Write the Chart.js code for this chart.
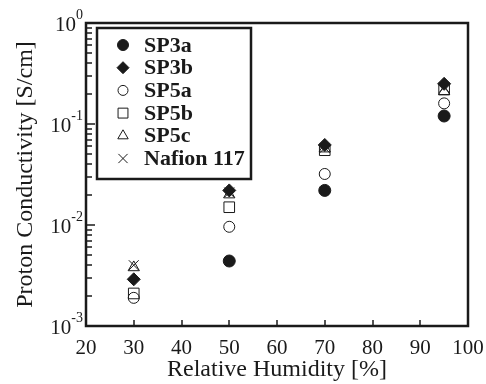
<!DOCTYPE html>
<html lang="en">
<head>
    <meta charset="UTF-8">
    <title>Proton Conductivity vs Relative Humidity</title>
    <style>
        html, body { margin: 0; padding: 0; background: #fff; }
        #wrap { width: 486px; height: 384px; }
    </style>
</head>
<body>
    <div id="wrap"><canvas id="chart" width="486" height="384"></canvas></div>
    <script src="https://cdn.jsdelivr.net/npm/chart.js"></script>
    <script>
        // relative humidity [%] where conductivity was measured
        const humidity = [30, 50, 70, 95];

        // proton conductivity [S/cm]
        const sp3a   = [null,   0.0044, 0.022, 0.12];
        const sp3b   = [0.0029, 0.022,  0.062, 0.25];
        const sp5a   = [0.0019, 0.0096, 0.032, 0.16];
        const sp5b   = [0.0021, 0.015,  0.055, 0.22];
        const sp5c   = [0.0038, 0.020,  0.057, 0.21];
        const nafion = [0.0040, 0.021,  0.058, 0.23];

        const seriesNames = ['SP3a', 'SP3b', 'SP5a', 'SP5b', 'SP5c', 'Nafion 117'];
        const xTickValues = [20, 30, 40, 50, 60, 70, 80, 90, 100];
        const yTickPowers = [0, -1, -2, -3];

        const ink = '#1a1a1a';
        const serif = '"Liberation Serif", "Times New Roman", serif';

        function toPoints(values) {
            return humidity.map((h, i) => ({ x: h, y: values[i] })).filter(p => p.y !== null);
        }

        const markers = [
            { style: 'circle',   radius: 6,   fill: ink },
            { style: 'rectRot',  radius: 6.5, fill: ink },
            { style: 'circle',   radius: 5.5, fill: 'rgba(0,0,0,0)' },
            { style: 'rect',     radius: 7.5, fill: 'rgba(0,0,0,0)' },
            { style: 'triangle', radius: 6.5, fill: 'rgba(0,0,0,0)' },
            { style: 'crossRot', radius: 7,   fill: 'rgba(0,0,0,0)' }
        ];

        const datasets = [sp3a, sp3b, sp5a, sp5b, sp5c, nafion].map((vals, i) => ({
            label: seriesNames[i],
            data: toPoints(vals),
            pointStyle: markers[i].style,
            pointRadius: markers[i].radius,
            backgroundColor: markers[i].fill,
            borderColor: ink,
            borderWidth: 1,
            showLine: false
        }));

        // frame, inward ticks, superscript y labels and the boxed legend
        const decorations = {
            id: 'decorations',
            afterDraw(chart) {
                const { ctx, chartArea: a, scales: { x, y } } = chart;
                ctx.save();
                ctx.strokeStyle = ink;
                ctx.fillStyle = ink;

                ctx.lineWidth = 1.5;
                xTickValues.forEach(v => {
                    const px = Math.round(x.getPixelForValue(v));
                    ctx.beginPath();
                    ctx.moveTo(px, a.bottom);
                    ctx.lineTo(px, a.bottom - 6);
                    ctx.stroke();
                });
                for (let p = -3; p <= 0; p++) {
                    for (let m = 1; m <= 9; m++) {
                        const v = m * Math.pow(10, p);
                        if (v > 1.0001) break;
                        const py = Math.round(y.getPixelForValue(v));
                        ctx.beginPath();
                        ctx.moveTo(a.left, py);
                        ctx.lineTo(a.left + (m === 1 ? 9 : 6), py);
                        ctx.stroke();
                    }
                }

                ctx.lineWidth = 2.5;
                ctx.strokeRect(a.left, a.top, a.right - a.left, a.bottom - a.top);

                // 10^n labels
                ctx.textAlign = 'right';
                ctx.textBaseline = 'middle';
                yTickPowers.forEach(p => {
                    const py = y.getPixelForValue(Math.pow(10, p));
                    const sup = String(p);
                    ctx.font = '14px ' + serif;
                    const supW = ctx.measureText(sup).width;
                    ctx.fillText(sup, 83, py - 8);
                    ctx.font = '21px ' + serif;
                    ctx.fillText('10', 83 - supW, py + 2);
                });

                // legend
                const bx = a.left + 11, by = a.top + 5, bw = 154, bh = 151;
                ctx.lineWidth = 2.5;
                ctx.strokeRect(bx, by, bw, bh);
                ctx.textAlign = 'left';
                ctx.font = 'bold 22px ' + serif;
                chart.data.datasets.forEach((ds, i) => {
                    const cy = by + 17 + i * 22.7;
                    ctx.lineWidth = 1;
                    ctx.fillStyle = ds.backgroundColor;
                    ctx.strokeStyle = ink;
                    Chart.helpers.drawPoint(ctx, {
                        pointStyle: ds.pointStyle,
                        radius: ds.pointRadius - 0.5,
                        rotation: 0,
                        borderWidth: 1
                    }, bx + 26, cy);
                    ctx.fillStyle = ink;
                    ctx.fillText(ds.label, bx + 47, cy + 1);
                });
                ctx.restore();
            }
        };

        new Chart(document.getElementById('chart').getContext('2d'), {
            type: 'scatter',
            data: { datasets },
            options: {
                responsive: false,
                animation: false,
                layout: { padding: { top: 23, right: 18, left: 0, bottom: 0 } },
                plugins: { legend: { display: false }, tooltip: { enabled: false } },
                scales: {
                    x: {
                        type: 'linear',
                        min: 20,
                        max: 100,
                        grid: { display: false },
                        border: { display: false },
                        ticks: { stepSize: 10, color: ink, padding: 2, font: { family: serif, size: 21 } },
                        title: {
                            display: true,
                            text: 'Relative Humidity [%]',
                            color: ink,
                            font: { family: serif, size: 24 },
                            padding: { top: 0, bottom: 0 }
                        },
                        afterFit(scale) { scale.height = 58; }
                    },
                    y: {
                        type: 'logarithmic',
                        min: 0.001,
                        max: 1,
                        grid: { display: false },
                        border: { display: false },
                        ticks: { display: false },
                        title: {
                            display: true,
                            text: 'Proton Conductivity [S/cm]',
                            color: ink,
                            font: { family: serif, size: 24 },
                            padding: { top: 11, bottom: 0 }
                        },
                        afterFit(scale) { scale.width = 86; }
                    }
                }
            },
            plugins: [decorations]
        });
    </script>
</body>
</html>
